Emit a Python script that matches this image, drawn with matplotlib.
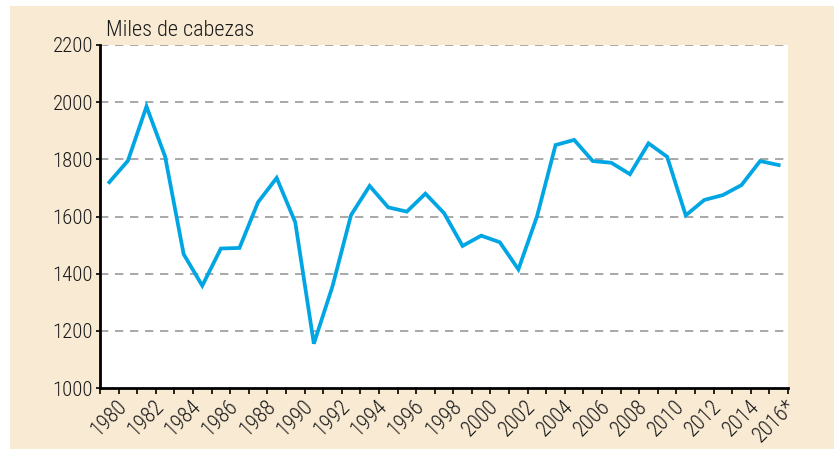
import matplotlib
matplotlib.use("Agg")
import matplotlib.pyplot as plt
import matplotlib.transforms as mtransforms
from matplotlib.patches import Rectangle

years = list(range(1980, 2017))
values = [1720, 1795, 1985, 1810, 1468, 1358, 1488, 1490, 1650, 1735,
          1580, 1155, 1355, 1605, 1707, 1632, 1617, 1680, 1612, 1497,
          1533, 1510, 1415, 1600, 1850, 1868, 1794, 1788, 1748, 1856,
          1809, 1604, 1658, 1675, 1710, 1794, 1780]
tick_labels = [str(y) for y in range(1980, 2016, 2)] + ["2016*"]
tick_years = list(range(1980, 2017, 2))
y_ticks = [1000, 1200, 1400, 1600, 1800, 2000, 2200]
y_label = "Miles de cabezas"

plt.rcParams['font.family'] = ['Roboto Condensed', 'Archivo Narrow', 'PT Sans Narrow',
                               'Liberation Sans Narrow', 'DejaVu Sans']
plt.rcParams['font.weight'] = 'light'

W, H = 834, 449
fig = plt.figure(figsize=(W / 100, H / 100), dpi=100)
fig.patch.set_facecolor('white')
bg = Rectangle((10 / W, 0), 1 - 10 / W, 1 - 6 / H,
               transform=fig.transFigure, facecolor='#f9ead4',
               edgecolor='none', zorder=-10)
fig.patches.append(bg)

ax = fig.add_axes([100 / W, 1 - 388 / H, 688 / W, 343 / H])
ax.set_zorder(1)
ax.set_facecolor('white')

ax.plot(years, values, color='#00a6e3', lw=2.7, solid_joinstyle='miter', zorder=3)

ax.set_xlim(1979.5, 2016.5)
ax.set_ylim(1000, 2200)
ax.set_yticks(y_ticks)
ax.set_yticklabels([str(v) for v in y_ticks], fontsize=15, color='#1a1a1a')
for v in y_ticks[1:]:
    ax.axhline(v, color='#9a9a9a', lw=1.2, ls=(0, (5, 4)), zorder=1)

ax.set_xticks([y - 0.5 for y in range(1980, 2018)])
ax.set_xticklabels([])
ax.tick_params(axis='x', length=4, width=1.2, color='black', direction='out')
ax.tick_params(axis='y', length=3, width=1.2, color='black', direction='out', pad=2)

offset = mtransforms.ScaledTranslation(7 / 100, -8 / 100, fig.dpi_scale_trans)
trans = mtransforms.blended_transform_factory(ax.transData, ax.transAxes) + offset
for yr, lab in zip(tick_years, tick_labels):
    ax.text(yr, 0, lab, transform=trans, rotation=45, ha='right', va='top',
            rotation_mode='anchor', fontsize=15.5, color='#1a1a1a', clip_on=False)

for s in ['top', 'right']:
    ax.spines[s].set_visible(False)
ax.spines['left'].set_linewidth(2)
ax.spines['bottom'].set_linewidth(2)

fig.text(106 / W, 1 - 36 / H, y_label, fontsize=16, color='#1a1a1a', ha='left', va='baseline')

fig.savefig('out.png', dpi=100)
